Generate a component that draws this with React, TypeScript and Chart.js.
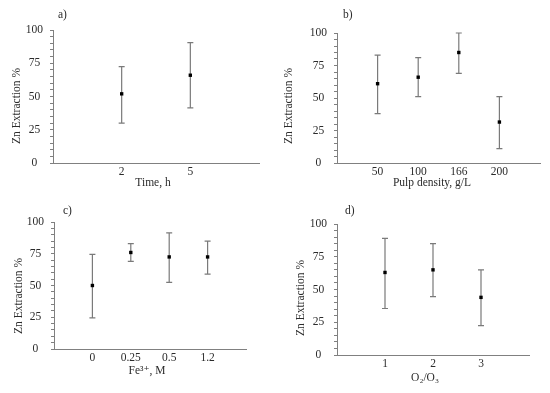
import React, { useEffect, useRef } from "react";
import { Chart, registerables } from "chart.js";

Chart.register(...registerables);

// ---- data ----
const timeLabels = ["2", "5"];
const timeValues = [52, 66];
const timeLow = [30, 41.5];
const timeHigh = [72.5, 90.5];

const pulpLabels = ["50", "100", "166", "200"];
const pulpValues = [61, 66, 85, 31.5];
const pulpLow = [38, 51, 69, 11];
const pulpHigh = [83, 81, 100, 51];

const feLabels = ["0", "0.25", "0.5", "1.2"];
const feValues = [50, 76, 72.5, 72.5];
const feLow = [24.5, 69, 52.5, 59];
const feHigh = [74.5, 83, 91.5, 85];

const oxLabels = ["1", "2", "3"];
const oxValues = [63, 65, 44];
const oxLow = [35.5, 44.5, 22.5];
const oxHigh = [89, 85, 65];

const yTicks = [0, 25, 50, 75, 100];
const yTitle = "Zn Extraction %";

const FONT = "'Liberation Serif', 'DejaVu Serif', serif";
const FSIZE = 11.5;
const TEXT = "#2b2b2b";
const AXIS = "#808080";

type PanelProps = {
  tag: string;
  xTitle: string;
  labels: string[];
  values: number[];
  low: number[];
  high: number[];
  box: { left: number; top: number; w: number; h: number };
  area: { l: number; t: number; r: number; b: number };
  tagPos: [number, number];
  yTitlePos: [number, number];
  xTitlePos: [number, number];
};

const errorBars = {
  id: "errbars",
  beforeDatasetsDraw(chart: any, _args: any, opts: any) {
    const { ctx, scales } = chart;
    const xs = scales.x;
    const ys = scales.y;
    const low: number[] = opts.low || [];
    const high: number[] = opts.high || [];
    ctx.save();
    ctx.strokeStyle = "#7a7a7a";
    ctx.lineWidth = 1.2;
    low.forEach((lo, i) => {
      const x = xs.getPixelForValue(i + 1);
      const y1 = ys.getPixelForValue(lo);
      const y2 = ys.getPixelForValue(high[i]);
      ctx.beginPath();
      ctx.moveTo(x, y1);
      ctx.lineTo(x, y2);
      ctx.moveTo(x - 3, y1);
      ctx.lineTo(x + 3, y1);
      ctx.moveTo(x - 3, y2);
      ctx.lineTo(x + 3, y2);
      ctx.stroke();
    });
    ctx.restore();
  },
};

const texts = {
  id: "texts",
  afterDraw(chart: any, _args: any, opts: any) {
    const { ctx } = chart;
    ctx.save();
    ctx.fillStyle = TEXT;
    ctx.font = `${FSIZE}px ${FONT}`;
    ctx.textAlign = "left";
    ctx.textBaseline = "middle";
    ctx.fillText(opts.tag, opts.tagPos[0], opts.tagPos[1]);
    ctx.textAlign = "center";
    ctx.fillText(opts.xTitle, opts.xTitlePos[0], opts.xTitlePos[1]);
    ctx.translate(opts.yTitlePos[0], opts.yTitlePos[1]);
    ctx.rotate(-Math.PI / 2);
    ctx.fillText(opts.yTitle, 0, 0);
    ctx.restore();
  },
};

function Panel(p: PanelProps) {
  const ref = useRef<HTMLCanvasElement | null>(null);
  useEffect(() => {
    if (!ref.current) return;
    const n = p.labels.length;
    const chart = new Chart(ref.current, {
      type: "scatter",
      data: {
        datasets: [
          {
            data: p.values.map((v, i) => ({ x: i + 1, y: v })),
            pointStyle: "rect",
            pointRadius: 2.4,
            backgroundColor: "#000000",
            borderColor: "#000000",
            borderWidth: 0,
            showLine: false,
          },
        ],
      },
      options: {
        responsive: false,
        animation: false,
        devicePixelRatio: 1,
        layout: {
          padding: { left: 0, top: p.area.t, right: p.box.w - p.area.r, bottom: 0 },
        },
        plugins: {
          legend: { display: false },
          tooltip: { enabled: false },
          errbars: { low: p.low, high: p.high },
          texts: {
            tag: p.tag,
            tagPos: p.tagPos,
            xTitle: p.xTitle,
            xTitlePos: p.xTitlePos,
            yTitle,
            yTitlePos: p.yTitlePos,
          },
        } as any,
        scales: {
          x: {
            type: "linear",
            min: 0,
            max: n + 1,
            afterFit: (s: any) => {
              s.height = p.box.h - p.area.b;
            },
            grid: { display: false, drawTicks: false },
            border: { display: true, color: AXIS, width: 1 },
            ticks: {
              stepSize: 1,
              autoSkip: false,
              maxRotation: 0,
              padding: 2,
              color: TEXT,
              font: { family: FONT, size: FSIZE },
              callback: (v: any) => p.labels[Number(v) - 1] ?? "",
            },
          },
          y: {
            min: 0,
            max: 100,
            afterFit: (s: any) => {
              s.width = p.area.l;
            },
            grid: {
              display: true,
              drawOnChartArea: false,
              drawTicks: true,
              tickLength: 3,
              color: AXIS,
            },
            border: { display: true, color: AXIS, width: 1 },
            ticks: {
              stepSize: 5,
              autoSkip: false,
              padding: 7,
              crossAlign: "center",
              color: TEXT,
              font: { family: FONT, size: FSIZE },
              callback: (v: any) => (yTicks.includes(Number(v)) ? String(v) : ""),
            },
          },
        },
      },
      plugins: [errorBars, texts],
    } as any);
    return () => chart.destroy();
  }, []);
  return (
    <canvas
      ref={ref}
      width={p.box.w}
      height={p.box.h}
      style={{
        position: "absolute",
        left: p.box.left,
        top: p.box.top,
        width: p.box.w,
        height: p.box.h,
      }}
    />
  );
}

export default function App() {
  return (
    <div
      style={{
        position: "fixed",
        left: 0,
        top: 0,
        width: 550,
        height: 393,
        background: "#ffffff",
      }}
    >
      <Panel
        tag="a)"
        xTitle="Time, h"
        labels={timeLabels}
        values={timeValues}
        low={timeLow}
        high={timeHigh}
        box={{ left: 0, top: 0, w: 275, h: 196 }}
        area={{ l: 53, t: 30, r: 259, b: 163 }}
        tagPos={[58, 15]}
        yTitlePos={[17, 106]}
        xTitlePos={[153, 183]}
      />
      <Panel
        tag="b)"
        xTitle="Pulp density, g/L"
        labels={pulpLabels}
        values={pulpValues}
        low={pulpLow}
        high={pulpHigh}
        box={{ left: 275, top: 0, w: 275, h: 196 }}
        area={{ l: 62, t: 33, r: 265, b: 163 }}
        tagPos={[68, 15]}
        yTitlePos={[14, 106]}
        xTitlePos={[157, 183]}
      />
      <Panel
        tag="c)"
        xTitle="Fe³⁺, M"
        labels={feLabels}
        values={feValues}
        low={feLow}
        high={feHigh}
        box={{ left: 0, top: 196, w: 275, h: 197 }}
        area={{ l: 54, t: 26, r: 246, b: 153 }}
        tagPos={[63, 15]}
        yTitlePos={[18.5, 100]}
        xTitlePos={[147, 175]}
      />
      <Panel
        tag="d)"
        xTitle="O₂/O₃"
        labels={oxLabels}
        values={oxValues}
        low={oxLow}
        high={oxHigh}
        box={{ left: 275, top: 196, w: 275, h: 197 }}
        area={{ l: 62, t: 28, r: 254, b: 159 }}
        tagPos={[70, 15]}
        yTitlePos={[26, 102]}
        xTitlePos={[150, 182]}
      />
    </div>
  );
}
